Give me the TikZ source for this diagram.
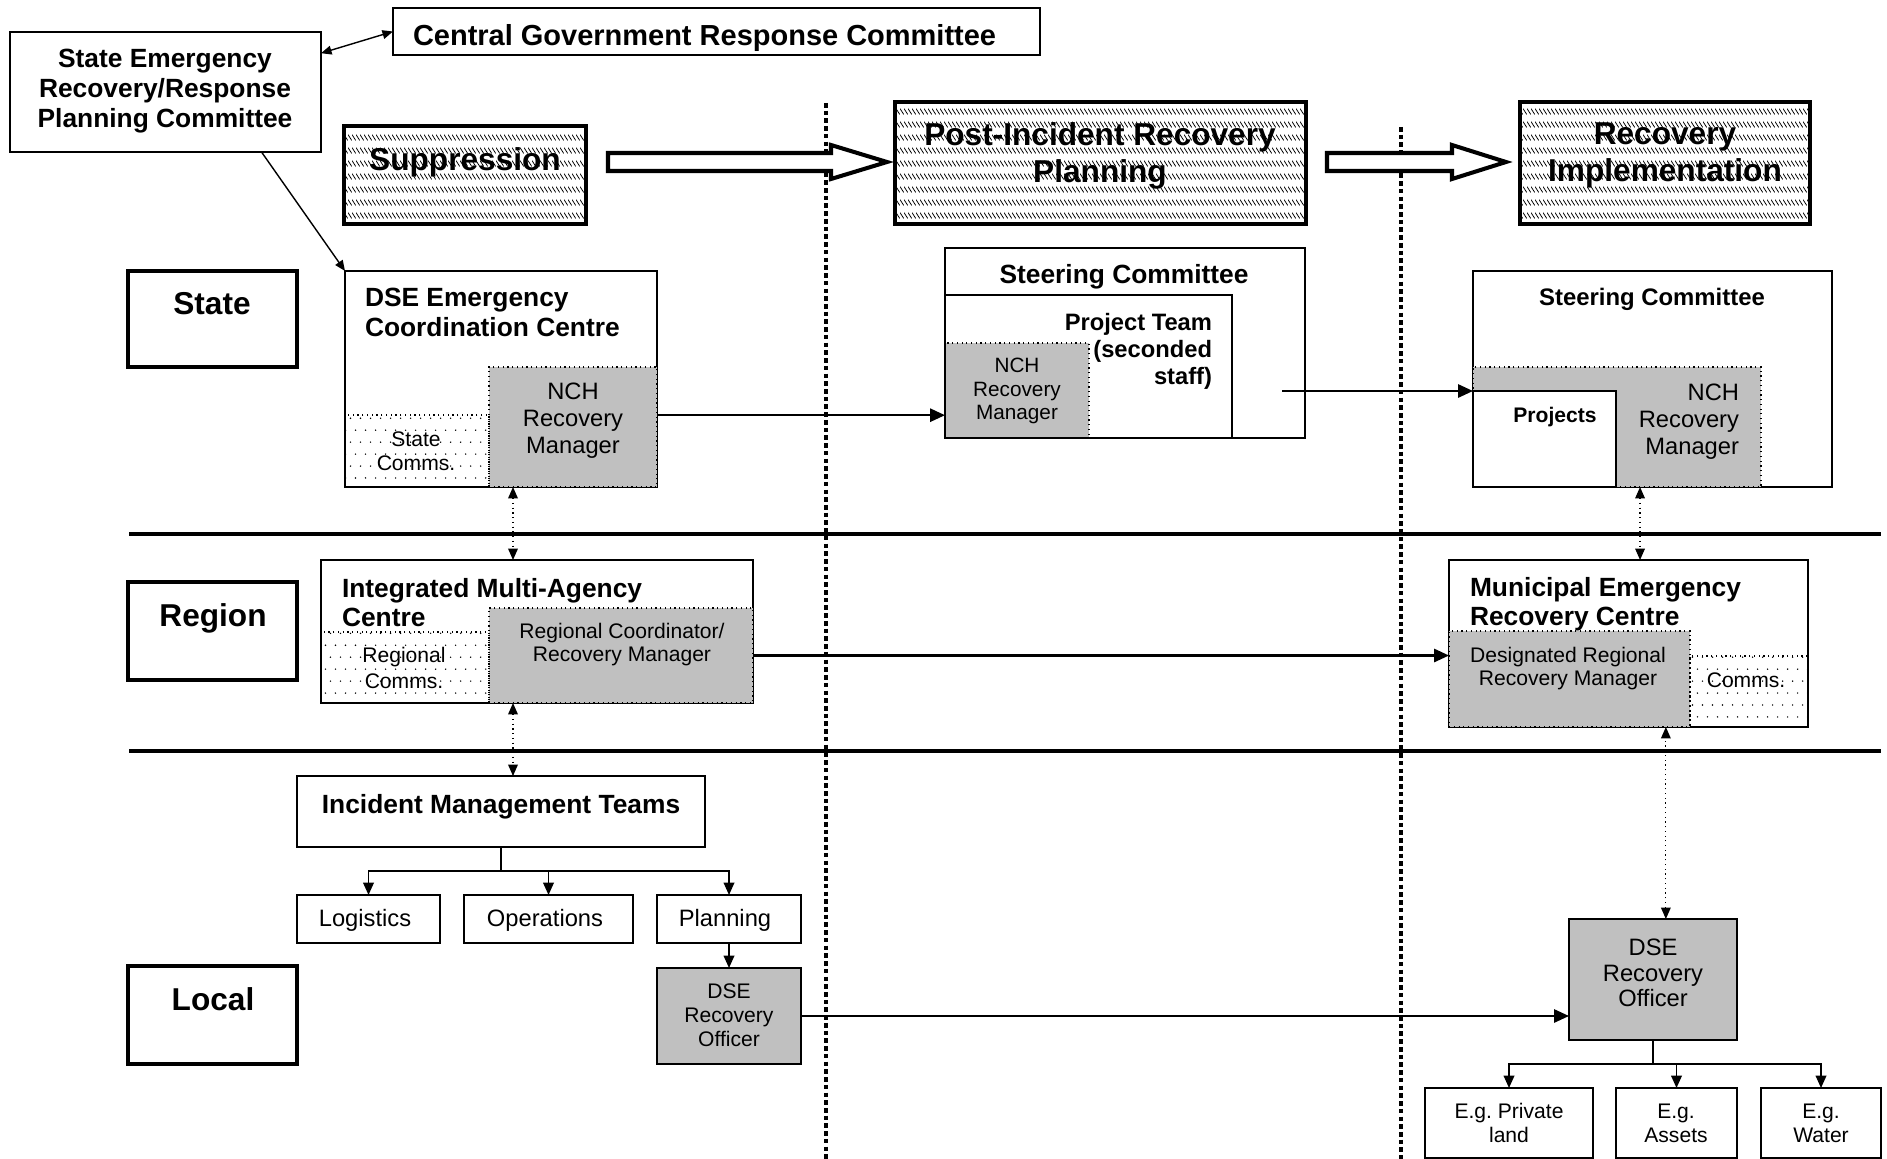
\documentclass[tikz,border=0pt]{standalone}
\usepackage{fontspec}
\setmainfont{Liberation Sans}
\usetikzlibrary{fit,patterns,arrows.meta}

\definecolor{boxgrey}{RGB}{192,192,192}

\pgfdeclarepatternformonly{bandhatch}{\pgfqpoint{0pt}{0pt}}{\pgfqpoint{2.2pt}{7.6pt}}{\pgfqpoint{2.2pt}{7.6pt}}{%
  \pgfsetlinewidth{0.45pt}%
  \pgfpathmoveto{\pgfqpoint{0pt}{7.4pt}}%
  \pgfpathlineto{\pgfqpoint{2.2pt}{3.9pt}}%
  \pgfusepath{stroke}}

\pgfdeclarepatternformonly{sparsedots}{\pgfqpoint{-0.6pt}{-0.6pt}}{\pgfqpoint{3.5pt}{7.4pt}}{\pgfqpoint{5.7pt}{13.6pt}}{%
  \pgfpathcircle{\pgfqpoint{0pt}{0pt}}{0.45pt}%
  \pgfpathcircle{\pgfqpoint{2.85pt}{6.8pt}}{0.45pt}%
  \pgfusepath{fill}}

\newcommand\fphase{\fontsize{18}{21}\selectfont\bfseries}
\newcommand\fcgrc{\fontsize{16.5}{19}\selectfont\bfseries}
\newcommand\fhead{\fontsize{15}{17}\selectfont\bfseries}
\newcommand\fsub{\fontsize{13.5}{15.4}\selectfont\bfseries}
\newcommand\fbody{\fontsize{13.5}{15.4}\selectfont}
\newcommand\fsmall{\fontsize{12}{13.5}\selectfont}

\begin{document}
\begin{tikzpicture}[x=0.02cm,y=-0.02cm]
\tikzstyle{box}=[draw,line width=0.8pt,inner sep=0pt,outer sep=0pt]
\tikzstyle{greybox}=[draw,dotted,line width=0.7pt,fill=boxgrey,inner sep=0pt,outer sep=0pt]
\tikzstyle{solidgrey}=[draw,line width=0.8pt,fill=boxgrey,inner sep=0pt,outer sep=0pt]
\tikzstyle{commbox}=[draw,dotted,line width=0.7pt,pattern=sparsedots,inner sep=0pt,outer sep=0pt]
\tikzstyle{phase}=[draw,line width=2.8pt,pattern=bandhatch,inner sep=0pt,outer sep=0pt]
\tikzstyle{level}=[draw,line width=2.8pt,inner sep=0pt,outer sep=0pt]
\tikzstyle{txt}=[inner sep=0pt,outer sep=0pt,align=center]
\tikzstyle{arr}=[line width=1.3pt,-{Triangle[length=8.5pt,width=7.5pt]}]
\tikzstyle{thinarr}=[line width=0.8pt,-{Triangle[length=6pt,width=5pt]}]
\tikzstyle{dblarr}=[line width=0.8pt,{Triangle[length=6pt,width=5pt]}-{Triangle[length=6pt,width=5pt]}]
\tikzstyle{dotarr}=[line width=0.7pt,dotted,{Triangle[length=6.5pt,width=5.5pt]}-{Triangle[length=6.5pt,width=5.5pt]}]
\tikzstyle{treearr}=[line width=1pt,-{Triangle[length=7pt,width=6pt]}]
\tikzstyle{blockarr}=[draw,line width=2.3pt,fill=white,line join=miter]
\tikzstyle{divider}=[line width=2.6pt]
\tikzstyle{phaseline}=[line width=2.6pt,dash pattern=on 2.6pt off 1.8pt]
\useasboundingbox (0,0) rectangle (1887,1159);

\draw[phaseline] (826,103) -- (826,1159);
\draw[phaseline] (1401,127) -- (1401,1159);
\draw[divider] (129,534) -- (1881,534);
\draw[divider] (129,751) -- (1881,751);

\node[box,fit={(10,32)(321,152)}] (serrpc) {};
\node[txt,font=\fhead] (serrpct) at (165,91) {State Emergency\\Recovery/Response\\Planning Committee};
\node[box,fit={(393,8)(1040,55)}] (cgrc) {};
\node[txt,font=\fcgrc,anchor=west] (cgrct) at (413,38) {Central Government Response Committee};

\node[phase,fit={(344,126)(586,224)}] (supp) {};
\node[txt,font=\fphase,anchor=north] (suppt) at (465,148) {Suppression};
\node[phase,fit={(895,102)(1306,224)}] (pirp) {};
\node[txt,font=\fphase,anchor=north] (pirpt) at (1100,123) {Post-Incident Recovery\\Planning};
\node[phase,fit={(1520,102)(1810,224)}] (rimp) {};
\node[txt,font=\fphase,anchor=north] (rimpt) at (1665,123) {Recovery\\Implementation};
\draw[blockarr] (608,153) -- (831,153) -- (831,145) -- (887,162) -- (831,179) -- (831,171) -- (608,171) -- cycle;
\draw[blockarr] (1327,153) -- (1452,153) -- (1452,145) -- (1506,162) -- (1452,179) -- (1452,171) -- (1327,171) -- cycle;

\node[level,fit={(128,271)(297,367)}] (lstate) {};
\node[txt,font=\fphase,anchor=north] (lstatet) at (212,292) {State};
\node[level,fit={(128,582)(297,680)}] (lregion) {};
\node[txt,font=\fphase,anchor=north] (lregiont) at (213,604) {Region};
\node[level,fit={(128,966)(297,1064)}] (llocal) {};
\node[txt,font=\fphase,anchor=north] (llocalt) at (213,988) {Local};

\node[box,fit={(345,271)(657,487)}] (ecc) {};
\node[txt,font=\fhead,align=left,anchor=north west] (ecct) at (365,288) {DSE Emergency\\Coordination Centre};
\node[greybox,fit={(489,367)(657,487)}] (nchs) {};
\node[txt,font=\fbody,anchor=north] (nchst) at (573,383) {NCH\\Recovery\\Manager};
\node[commbox,fit={(345,415)(489,487)}] (scomm) {};
\node[txt,font=\fsmall] (scommt) at (416,451) {State\\Comms.};

\node[greybox,fit={(945,343)(1089,438)}] (nchm) {};
\node[txt,font=\fontsize{11.8}{13.4}\selectfont] (nchmt) at (1017,391) {NCH\\Recovery\\Manager};
\node[box,fit={(945,295)(1232,438)}] (pteam) {};
\node[txt,font=\fsub,align=right,anchor=north east] (pteamt) at (1212,313) {Project Team\\(seconded\\staff)};
\node[box,fit={(945,248)(1305,438)}] (sc1) {};
\node[txt,font=\fhead,anchor=north] (sc1t) at (1124,264) {Steering Committee};

\node[box,fit={(1473,271)(1832,487)}] (sc2) {};
\node[txt,font=\fontsize{13.6}{15.5}\selectfont\bfseries,anchor=north] (sc2t) at (1652,288) {Steering Committee};
\node[greybox,fit={(1473,367)(1761,487)}] (nchr) {};
\node[txt,font=\fbody,align=right,anchor=north east] (nchrt) at (1739,384) {NCH\\Recovery\\Manager};
\node[box,fill=white,fit={(1473,391)(1616,487)}] (proj) {};
\node[txt,font=\fontsize{12}{14}\selectfont\bfseries,anchor=north] (projt) at (1555,407) {Projects};

\node[box,fit={(321,560)(753,703)}] (imac) {};
\node[txt,font=\fhead,align=left,anchor=north west] (imact) at (342,578) {Integrated Multi-Agency\\Centre};
\node[greybox,fit={(489,608)(753,703)}] (regc) {};
\node[txt,font=\fontsize{12}{13}\selectfont,anchor=north] (regct) at (622,623) {Regional Coordinator/\\Recovery Manager};
\node[commbox,fit={(321,632)(489,703)}] (rcomm) {};
\node[txt,font=\fontsize{12}{14.8}\selectfont] (rcommt) at (404,668) {Regional\\Comms.};

\node[box,fit={(1449,560)(1808,727)}] (merc) {};
\node[txt,font=\fhead,align=left,anchor=north west] (merct) at (1470,577) {Municipal Emergency\\Recovery Centre};
\node[greybox,fit={(1449,631)(1690,727)}] (drrm) {};
\node[txt,font=\fontsize{12}{13}\selectfont,anchor=north] (drrmt) at (1568,647) {Designated Regional\\Recovery Manager};
\node[commbox,fit={(1690,656)(1808,727)}] (mcomm) {};
\node[txt,font=\fsmall] (mcommt) at (1746,680) {Comms.};

\node[box,fit={(297,776)(705,847)}] (imt) {};
\node[txt,font=\fhead,anchor=north] (imtt) at (501,794) {Incident Management Teams};
\node[box,fit={(297,895)(440,943)}] (logi) {};
\node[txt,font=\fbody] (logit) at (365,920) {Logistics};
\node[box,fit={(464,895)(633,943)}] (oper) {};
\node[txt,font=\fbody] (opert) at (545,920) {Operations};
\node[box,fit={(657,895)(801,943)}] (plan) {};
\node[txt,font=\fbody] (plant) at (725,920) {Planning};
\node[solidgrey,fit={(657,968)(801,1064)}] (dsel) {};
\node[txt,font=\fontsize{12}{13.7}\selectfont] (dselt) at (729,1015) {DSE\\Recovery\\Officer};

\node[solidgrey,fit={(1569,919)(1737,1040)}] (dser) {};
\node[txt,font=\fontsize{13.5}{14.5}\selectfont] (dsert) at (1653,973) {DSE\\Recovery\\Officer};
\node[box,fit={(1425,1088)(1593,1158)}] (egp) {};
\node[txt,font=\fontsize{12}{13.5}\selectfont] (egpt) at (1509,1123) {E.g.\ Private\\land};
\node[box,fit={(1616,1088)(1737,1158)}] (ega) {};
\node[txt,font=\fontsize{12}{13.5}\selectfont] (egat) at (1676,1123) {E.g.\\Assets};
\node[box,fit={(1761,1088)(1881,1158)}] (egw) {};
\node[txt,font=\fontsize{12}{13.5}\selectfont] (egwt) at (1821,1123) {E.g.\\Water};

\coordinate (ptout) at (1282,391);
\draw[dblarr] (serrpc.14) -- (cgrc.west);
\draw[thinarr] (serrpc.-32) -- (ecc.north west);
\draw[arr] (nchs.8) -- (nchs.8 -| nchm.west);
\draw[arr] (ptout) -- (ptout -| sc2.west);
\draw[arr] (regc.east) -- (regc.east -| merc.west);
\draw[arr] (dsel.east) -- (dsel.east -| dser.west);
\draw[dotarr] (nchs.-135) -- (nchs.-135 |- imac.north);
\draw[dotarr] (nchs.-135 |- imac.south) -- (nchs.-135 |- imt.north);
\draw[dotarr] (nchr.-69) -- (nchr.-69 |- merc.north);
\draw[dotarr] (dser.78) -- (dser.78 |- drrm.south);
\draw[treearr] (imt.south) -- ++(0,24) -| (logi.north);
\draw[treearr] (imt.south) -- ++(0,24) -| (oper.north);
\draw[treearr] (imt.south) -- ++(0,24) -| (plan.north);
\draw[treearr] (plan.south) -- (dsel.north);
\draw[treearr] (dser.south) -- ++(0,24) -| (egp.north);
\draw[treearr] (dser.south) -- ++(0,24) -| (ega.north);
\draw[treearr] (dser.south) -- ++(0,24) -| (egw.north);
\end{tikzpicture}
\end{document}
